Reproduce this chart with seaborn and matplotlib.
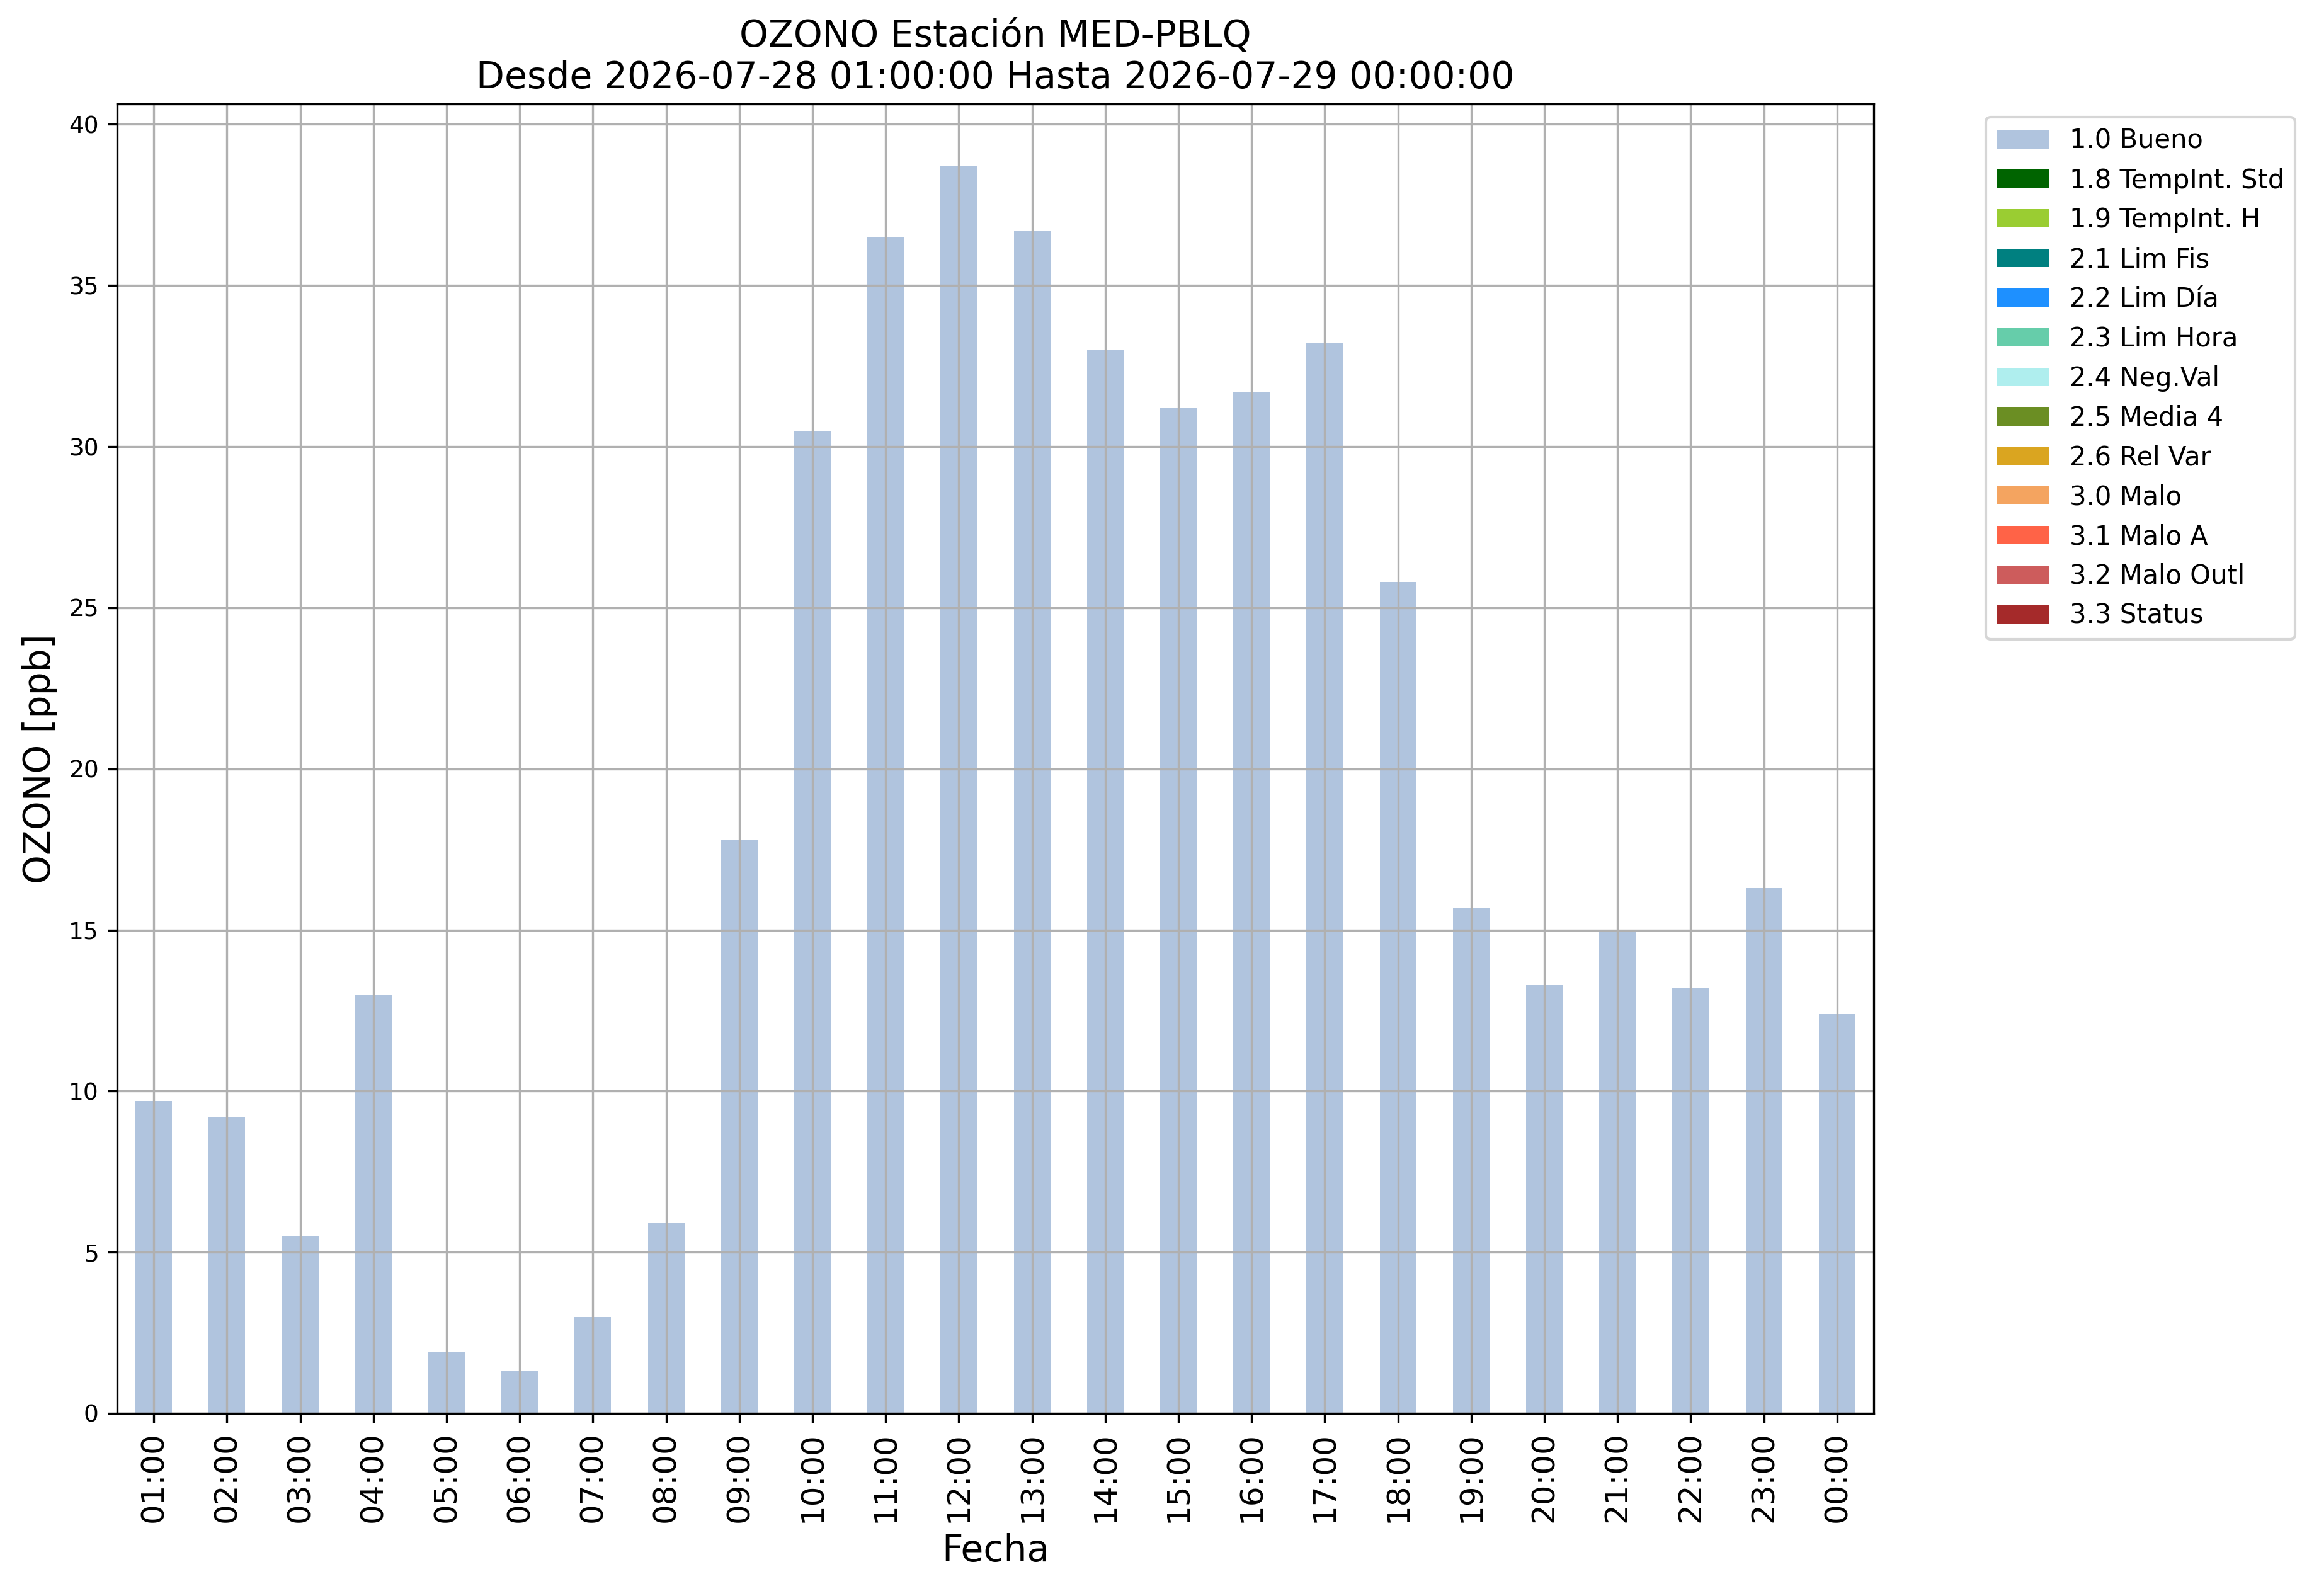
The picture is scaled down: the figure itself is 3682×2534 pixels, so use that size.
import numpy as np
import pandas as pd
import matplotlib
matplotlib.use("Agg")
import matplotlib.pyplot as plt
import seaborn as sns

# hourly ozone values, 2026-07-28 01:00 -> 2026-07-29 00:00
hours = ["01:00", "02:00", "03:00", "04:00", "05:00", "06:00", "07:00", "08:00",
         "09:00", "10:00", "11:00", "12:00", "13:00", "14:00", "15:00", "16:00",
         "17:00", "18:00", "19:00", "20:00", "21:00", "22:00", "23:00", "00:00"]
bueno = [9.7, 9.2, 5.5, 13.0, 1.9, 1.3, 3.0, 5.9,
         17.8, 30.5, 36.5, 38.7, 36.7, 33.0, 31.2, 31.7,
         33.2, 25.8, 15.7, 13.3, 15.0, 13.2, 16.3, 12.4]

# quality flags (no data flagged in this period)
flag_names = ["1.0 Bueno", "1.8 TempInt. Std", "1.9 TempInt. H", "2.1 Lim Fis",
              "2.2 Lim Día", "2.3 Lim Hora", "2.4 Neg.Val", "2.5 Media 4",
              "2.6 Rel Var", "3.0 Malo", "3.1 Malo A", "3.2 Malo Outl", "3.3 Status"]
flag_colors = ["lightsteelblue", "darkgreen", "yellowgreen", "teal",
               "dodgerblue", "mediumaquamarine", "paleturquoise", "olivedrab",
               "goldenrod", "sandybrown", "tomato", "indianred", "brown"]
flag_values = [bueno] + [[0.0] * len(hours) for _ in flag_names[1:]]

fig = plt.figure(figsize=(3682 / 300, 2534 / 300), dpi=300)
ax = fig.add_axes([186 / 3682, 1 - 2244 / 2534, (2975 - 186) / 3682, (2244 - 165) / 2534])

for name, col, vals in zip(flag_names, flag_colors, flag_values):
    df = pd.DataFrame({"Fecha": hours, "valor": vals})
    sns.barplot(data=df, x="Fecha", y="valor", color=col, saturation=1,
                width=0.5, linewidth=0, label=name, ax=ax)

ax.set_xlim(-0.5, len(hours) - 0.5)
ax.set_ylim(0, max(bueno) * 1.05)
ax.grid(True)
ax.set_axisbelow("line")

ax.set_title("OZONO Estación MED-PBLQ\nDesde 2026-07-28 01:00:00 Hasta 2026-07-29 00:00:00",
             fontsize=14)
ax.set_xlabel("Fecha", fontsize=14)
ax.set_ylabel("OZONO [ppb]", fontsize=14)
ax.tick_params(axis="x", labelrotation=90, labelsize=12)
ax.tick_params(axis="y", labelsize=9)

ax.legend(loc="upper left", bbox_to_anchor=(3153 / 3682, 1 - 186 / 2534),
          bbox_transform=fig.transFigure, borderaxespad=0, fontsize=10)

fig.savefig("out.png", dpi=300)
